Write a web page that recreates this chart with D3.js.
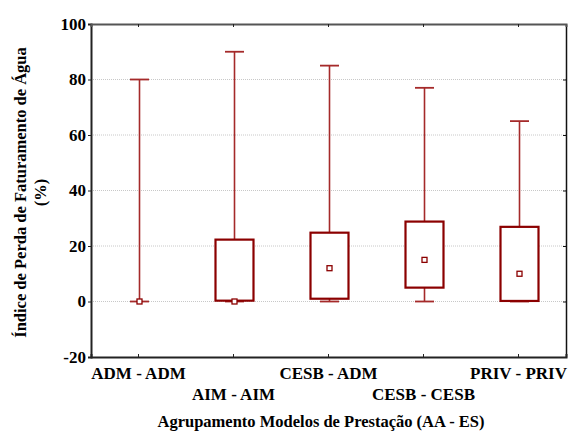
<!DOCTYPE html>
<html><head><meta charset="utf-8">
<script src="https://cdn.jsdelivr.net/npm/d3@7/dist/d3.min.js"></script>
<style>body{margin:0;background:#fff}svg{display:block}</style>
</head><body>
<script>
const categories = ["ADM - ADM","AIM - AIM","CESB - ADM","CESB - CESB","PRIV - PRIV"];
const minVals    = [0, 0, 0, 0, 0];
const q1Vals     = [0, 0.3, 1, 5, 0.2];
const medianVals = [0, 0, 12, 15, 10];
const q3Vals     = [0, 22.3, 24.8, 28.8, 26.9];
const maxVals    = [80, 90, 85, 77, 65];
const yTicks     = [-20, 0, 20, 40, 60, 80, 100];
const yTickLabels = ["-20", "0", "20", "40", "60", "80", "100"];

const FONT = "'Liberation Serif', 'Times New Roman', serif";
const W = 569, H = 432;
const m = {left: 91, right: 3, top: 24, bottom: 75};
const svg = d3.select("body").append("svg").attr("width", W).attr("height", H);
const x = d3.scaleBand().domain(categories).range([m.left, W - m.right]);
const y = d3.scaleLinear().domain([-20, 100]).range([H - m.bottom, m.top]);
const red = "#8b0000";
const styleText = sel => sel.attr("font-family", FONT).attr("font-weight", "bold").attr("fill", "#000");

// gridlines
svg.append("g").selectAll("line").data(yTicks.filter(t => t > -20 && t < 100)).join("line")
  .attr("x1", m.left).attr("x2", W - m.right)
  .attr("y1", d => y(d)).attr("y2", d => y(d))
  .attr("stroke", "#c8c8c8").attr("stroke-width", 1).attr("stroke-dasharray", "1,1");

// axes
const gl = svg.append("g").attr("transform", `translate(${m.left},0)`)
  .call(d3.axisLeft(y).tickValues(yTicks).tickSize(3).tickFormat(""));
gl.select(".domain").attr("stroke", "#222").attr("stroke-width", 2);
gl.selectAll(".tick line").attr("stroke", "#222");
svg.append("g").selectAll("text").data(yTicks).join("text")
  .attr("x", m.left - 5).attr("y", d => y(d)).attr("dy", "0.33em")
  .attr("text-anchor", "end").call(styleText).attr("font-size", 17)
  .text((d, i) => yTickLabels[i]);

const gr = svg.append("g").attr("transform", `translate(${W - m.right},0)`)
  .call(d3.axisLeft(y).tickValues(yTicks).tickSize(-0).tickFormat(""));
gr.select(".domain").attr("stroke", "#111").attr("stroke-width", 1.5);
gr.selectAll(".tick line").attr("x2", -3).attr("stroke", "#111");

const gt = svg.append("g").attr("transform", `translate(0,${m.top})`)
  .call(d3.axisTop(x).tickSize(-3).tickFormat(""));
gt.select(".domain").attr("stroke", "#555").attr("stroke-width", 2);
gt.selectAll(".tick line").attr("stroke", "#222");

const gb = svg.append("g").attr("transform", `translate(0,${H - m.bottom})`)
  .call(d3.axisBottom(x).tickSize(-3).tickFormat(""));
gb.select(".domain").attr("stroke", "#222").attr("stroke-width", 2);
gb.selectAll(".tick line").attr("stroke", "#222");

// category labels (staggered)
svg.append("g").selectAll("text").data(categories).join("text")
  .attr("x", d => x(d) + x.bandwidth() / 2)
  .attr("y", (d, i) => i % 2 === 0 ? 379 : 400)
  .attr("text-anchor", "middle").call(styleText).attr("font-size", 17).text(d => d);

// boxes
const data = categories.map((c, i) => ({c, min: minVals[i], q1: q1Vals[i], med: medianVals[i], q3: q3Vals[i], max: maxVals[i]}));
const bw = 38, cw = 19;
const g = svg.append("g");
data.forEach(d => {
  const cx = Math.round(x(d.c) + x.bandwidth() / 2) + 0.5;
  g.append("line").attr("x1", cx).attr("x2", cx).attr("y1", y(d.q3)).attr("y2", y(d.max))
    .attr("stroke", "#a52a2a").attr("stroke-width", 1.6);
  g.append("line").attr("x1", cx).attr("x2", cx).attr("y1", y(d.min)).attr("y2", y(d.q1))
    .attr("stroke", "#a52a2a").attr("stroke-width", 1.6);
  g.append("line").attr("x1", cx - cw / 2).attr("x2", cx + cw / 2).attr("y1", y(d.max)).attr("y2", y(d.max))
    .attr("stroke", "#a52a2a").attr("stroke-width", 1.8);
  g.append("line").attr("x1", cx - cw / 2).attr("x2", cx + cw / 2).attr("y1", y(d.min)).attr("y2", y(d.min))
    .attr("stroke", "#a52a2a").attr("stroke-width", 1.8);
  if (d.q3 > d.q1) {
    g.append("rect").attr("x", cx - bw / 2).attr("y", y(d.q3)).attr("width", bw).attr("height", y(d.q1) - y(d.q3))
      .attr("fill", "#fff").attr("stroke", red).attr("stroke-width", 2.2);
  }
  g.append("rect").attr("x", cx - 2.5).attr("y", y(d.med) - 2.5).attr("width", 5).attr("height", 5)
    .attr("fill", "#fff").attr("stroke", red).attr("stroke-width", 1.3);
});

// titles
svg.append("text").attr("x", 321).attr("y", 427).attr("text-anchor", "middle")
  .call(styleText).attr("font-size", 16.5).text("Agrupamento Modelos de Prestação (AA - ES)");
const yt = svg.append("text").attr("transform", `translate(26,${(m.top + H - m.bottom) / 2 + 2}) rotate(-90)`)
  .attr("text-anchor", "middle").call(styleText).attr("font-size", 16.5);
yt.append("tspan").attr("x", 0).attr("dy", 0).text("Índice de Perda de Faturamento de Água");
yt.append("tspan").attr("x", 0).attr("dy", 20).text("(%)");
</script>
</body></html>
